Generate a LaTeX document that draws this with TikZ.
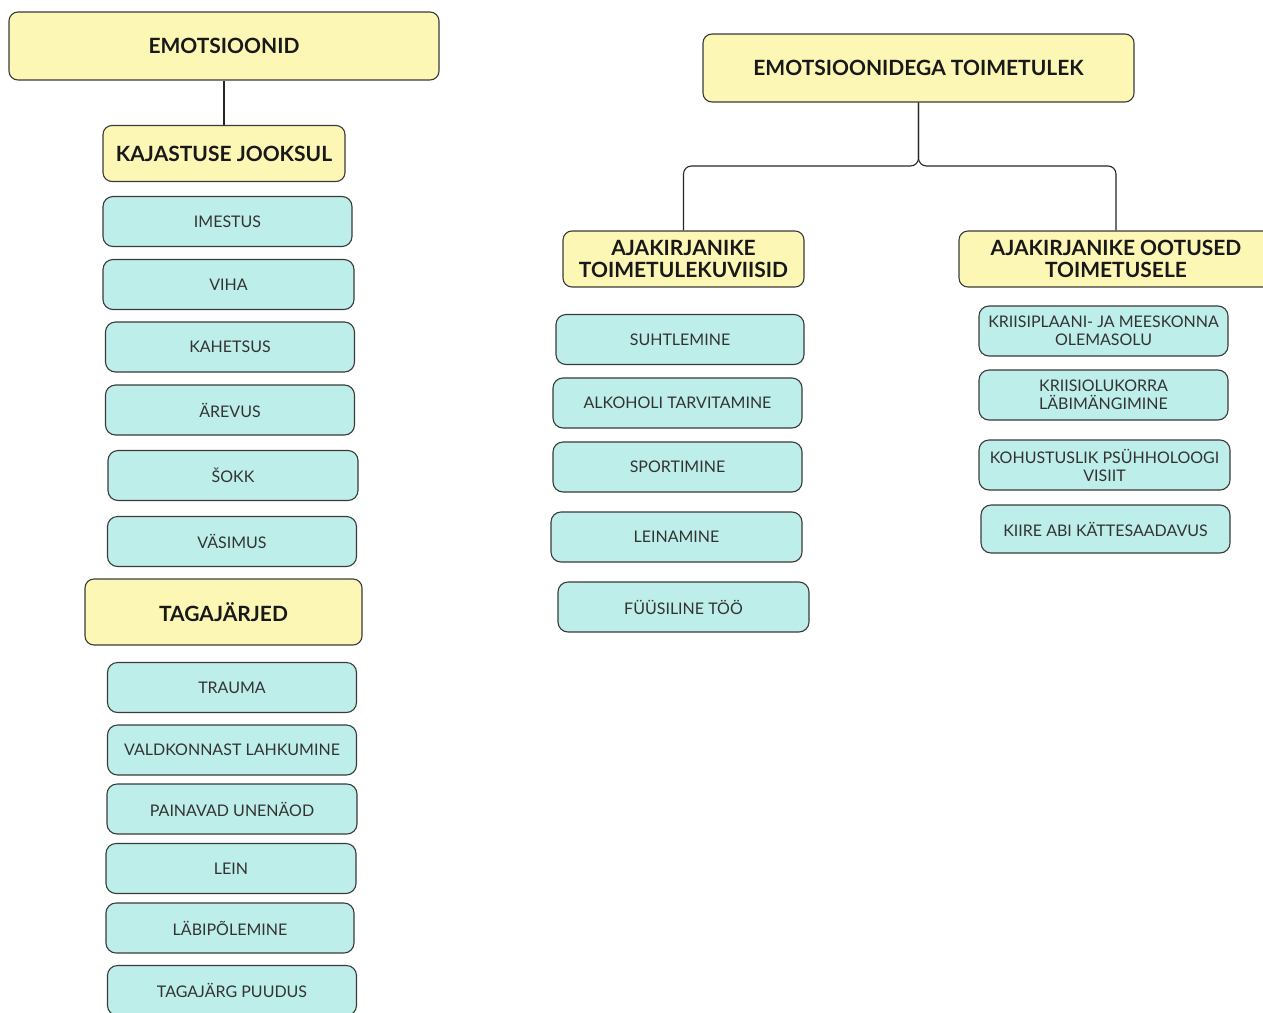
\documentclass[tikz,border=0pt]{standalone}
\usepackage{fontspec}
\setmainfont{Lato}
\usepackage{xcolor}
\usepackage{tikz}
\usetikzlibrary{positioning}

\definecolor{headfill}{HTML}{FDF7B6}
\definecolor{leaffill}{HTML}{BDEEE9}
\definecolor{boxline}{HTML}{3A3A3A}

\begin{document}
\begin{tikzpicture}[
    x=1pt, y=-1pt,
    head/.style={rectangle, rounded corners=9pt, draw=boxline, fill=headfill, line width=1.1pt,
        minimum height=56pt, align=center, text=black!90, font=\fontsize{21}{22}\selectfont\bfseries},
    bighead/.style={head, minimum height=68pt},
    leaf/.style={rectangle, rounded corners=10pt, draw=boxline, fill=leaffill, line width=1.1pt,
        minimum width=249pt, minimum height=50pt, align=center, text=black!80,
        font=\fontsize{16}{18}\selectfont},
    link/.style={draw=black!85, line width=1.1pt}
]
    \useasboundingbox (0,0) rectangle (1263,1012);

    % Emotsioonid
    \node[bighead, minimum width=430pt] (emo) at (224,46) {EMOTSIOONID};
    \node[head, minimum width=242pt] (kajastus) at (224,153.5) {KAJASTUSE JOOKSUL};
    \draw[link] (emo.south) -- (kajastus.north);

    \node[leaf] (imestus) at (227.5,221.5) {IMESTUS};
    \node[leaf, minimum width=251pt] (viha) at (228.5,284.5) {VIHA};
    \node[leaf] (kahetsus) at (230,347) {KAHETSUS};
    \node[leaf] (arevus) at (230,410) {ÄREVUS};
    \node[leaf, minimum width=250pt] (sokk) at (233,475.5) {ŠOKK};
    \node[leaf] (vasimus) at (232,541.5) {VÄSIMUS};

    % Tagajarjed
    \node[bighead, minimum width=277pt, minimum height=66pt] (tagajarjed) at (223.5,612) {TAGAJÄRJED};
    \node[leaf] (trauma) at (232,687.5) {TRAUMA};
    \node[leaf] (lahkumine) at (232,750) {VALDKONNAST LAHKUMINE};
    \node[leaf, minimum width=250pt] (unenaod) at (232,809) {PAINAVAD UNENÄOD};
    \node[leaf, minimum width=250pt] (lein) at (231,868.5) {LEIN};
    \node[leaf, minimum width=248pt] (labipolemine) at (230,928) {LÄBIPÕLEMINE};
    \node[leaf] (puudus) at (232,990.5) {TAGAJÄRG PUUDUS};

    % Toimetulek
    \node[bighead, minimum width=431pt] (toimetulek) at (918.5,68) {EMOTSIOONIDEGA TOIMETULEK};
    \node[head, minimum width=241pt] (viisid) at (683.5,259)
        {AJAKIRJANIKE\\TOIMETULEKUVIISID};
    \node[head, minimum width=314pt] (ootused) at (1116,259)
        {AJAKIRJANIKE OOTUSED\\TOIMETUSELE};
    \coordinate (fork) at (918.5,166);
    \draw[link, rounded corners=8pt] (toimetulek.south) -- (fork) -| (viisid.north);
    \draw[link, rounded corners=8pt] (toimetulek.south) -- (fork) -| (ootused.north);

    \node[leaf, minimum width=248pt] (suhtlemine) at (680,339.5) {SUHTLEMINE};
    \node[leaf] (alkohol) at (677.5,403) {ALKOHOLI TARVITAMINE};
    \node[leaf] (sport) at (677.5,467) {SPORTIMINE};
    \node[leaf, minimum width=251pt] (leinamine) at (676.5,537) {LEINAMINE};
    \node[leaf, minimum width=251pt] (fyysiline) at (683.5,607) {FÜÜSILINE TÖÖ};

    \node[leaf] (kriisiplaan) at (1103.5,331) {KRIISIPLAANI- JA MEESKONNA\\OLEMASOLU};
    \node[leaf] (labimang) at (1103.5,395) {KRIISIOLUKORRA\\LÄBIMÄNGIMINE};
    \node[leaf, minimum width=251pt] (visiit) at (1104.5,465) {KOHUSTUSLIK PSÜHHOLOOGI\\VISIIT};
    \node[leaf, minimum height=48pt] (kiireabi) at (1105.5,529) {KIIRE ABI KÄTTESAADAVUS};
\end{tikzpicture}
\end{document}
